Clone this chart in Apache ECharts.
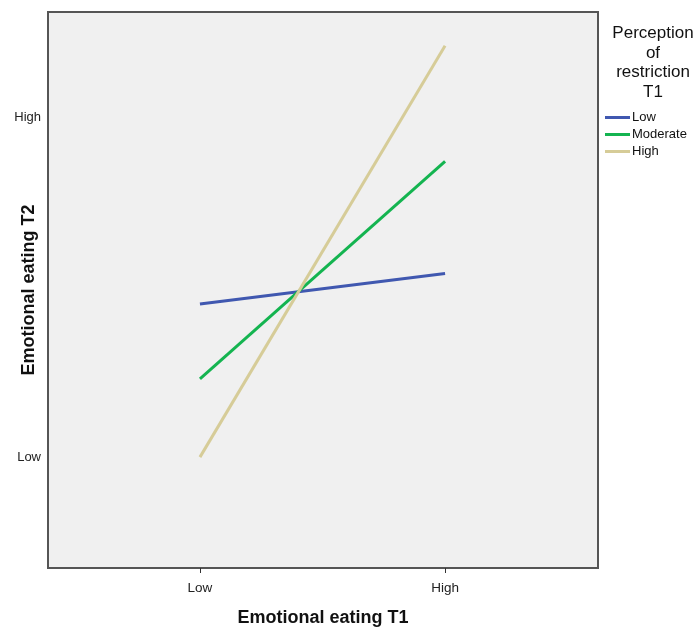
<!DOCTYPE html>
<html>
<head>
<meta charset="utf-8">
<script src="https://cdn.jsdelivr.net/npm/echarts@6/dist/echarts.min.js"></script>
<style>
html,body{margin:0;padding:0;background:#fff;}
#chart{width:694px;height:628px;}
</style>
</head>
<body>
<div id="chart"></div>
<script>
const xLabels = ['Low', 'High'];
const yLabels = ['Low', 'High'];
const seriesNames = ['Low', 'Moderate', 'High'];
const lowValues = [0.45, 0.54];
const moderateValues = [0.23, 0.87];
const highValues = [0.0, 1.21];
const colors = ['#4058b0', '#14b450', '#d6cc98'];

const font = 'Arial, "Liberation Sans", sans-serif';
const allValues = [lowValues, moderateValues, highValues];
const chart = echarts.init(document.getElementById('chart'));
chart.setOption({
  animation: false,
  backgroundColor: '#ffffff',
  textStyle: { fontFamily: font },
  title: {
    text: 'Perception\nof\nrestriction\nT1',
    left: 648,
    top: 19,
    textAlign: 'center',
    textStyle: { fontFamily: font, fontSize: 17, fontWeight: 'normal', color: '#111', lineHeight: 19.5 }
  },
  legend: {
    orient: 'vertical',
    left: 600,
    top: 106,
    itemWidth: 25,
    itemHeight: 10,
    itemGap: 4,
    data: seriesNames.map((n, i) => ({ name: n, icon: 'path://M0,3.5 L25,3.5 L25,6.5 L0,6.5 Z', itemStyle: { color: colors[i] } })),
    textStyle: { fontFamily: font, fontSize: 13, color: '#111', padding: [0, 0, 0, -3] }
  },
  grid: {
    left: 48, right: 96, top: 12, bottom: 60,
    containLabel: false, outerBoundsMode: 'none',
    show: true, backgroundColor: '#f0f0f0', borderColor: '#555', borderWidth: 2
  },
  xAxis: {
    type: 'value',
    min: -0.62, max: 1.624,
    name: 'Emotional eating T1',
    nameLocation: 'middle',
    nameGap: 41,
    nameTextStyle: { fontFamily: font, fontSize: 18, fontWeight: 'bold', color: '#111' },
    axisLine: { show: true, onZero: false, lineStyle: { color: '#555', width: 2 } },
    axisTick: { show: true, customValues: [0, 1], length: 5, lineStyle: { color: '#333' } },
    splitLine: { show: false },
    axisLabel: {
      customValues: [0, 1], margin: 13, fontSize: 13.5, color: '#222', fontFamily: font,
      formatter: v => xLabels[Math.round(v)]
    }
  },
  yAxis: {
    type: 'value',
    min: -0.326, max: 1.309,
    name: 'Emotional eating T2',
    nameLocation: 'middle',
    nameGap: 10,
    nameMoveOverlap: false,
    nameRotate: 90,
    nameTextStyle: { fontFamily: font, fontSize: 18, fontWeight: 'bold', color: '#111' },
    axisLine: { show: true, onZero: false, lineStyle: { color: '#555', width: 2 } },
    axisTick: { show: false },
    splitLine: { show: false },
    axisLabel: {
      customValues: [0, 1], margin: 7, fontSize: 13, color: '#222', fontFamily: font,
      formatter: v => yLabels[Math.round(v)]
    }
  },
  series: seriesNames.map((n, i) => ({
    name: n,
    type: 'line',
    data: allValues[i].map((v, j) => [j, v]),
    symbol: 'none',
    lineStyle: { color: colors[i], width: 3 },
    itemStyle: { color: colors[i] }
  }))
});
</script>
</body>
</html>
